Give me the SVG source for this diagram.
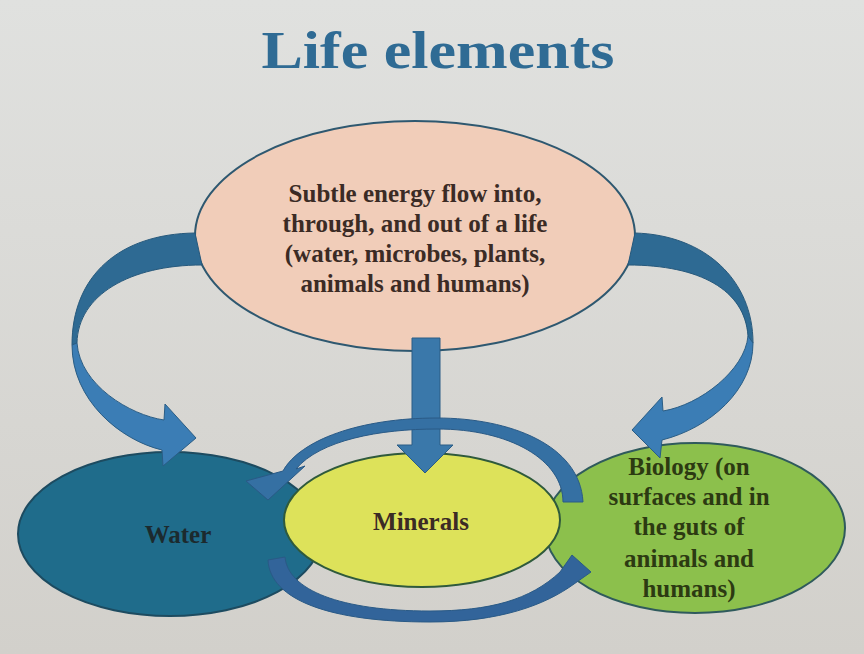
<svg xmlns="http://www.w3.org/2000/svg" width="864" height="654" viewBox="0 0 864 654">
<defs>
<linearGradient id="bg" x1="0" y1="0" x2="0" y2="1">
<stop offset="0" stop-color="#e0e1df"/>
<stop offset="1" stop-color="#d2d0cb"/>
</linearGradient>
</defs>
<style>
.lbl{font-family:"Liberation Serif","Times New Roman",serif;font-weight:bold;font-size:25px;fill:#3b2b25;text-anchor:middle}
.bio{fill:#2c3a12}
.node{stroke-width:2}
.arrD{fill:#2e6a93;stroke:#27597c;stroke-width:1}
.arrL{fill:#3b7db5;stroke:#2a5d85;stroke-width:1}
.ring{fill:#3570a3;stroke:#2a5a86;stroke-width:1}
</style>
<rect width="864" height="654" fill="url(#bg)"/>
<text x="438" y="68" font-family="Liberation Serif,'Times New Roman',serif" font-weight="bold" font-size="53" fill="#2f6b94" text-anchor="middle" textLength="353" lengthAdjust="spacingAndGlyphs">Life elements</text>

<g id="node-energy">
<ellipse class="node" cx="415" cy="236" rx="220" ry="115" fill="#f1cdb9" stroke="#2e5870"/>
<text class="lbl" x="415" y="202">Subtle energy flow into,</text>
<text class="lbl" x="415" y="232">through, and out of a life</text>
<text class="lbl" x="415" y="262">(water, microbes, plants,</text>
<text class="lbl" x="415" y="292">animals and humans)</text>
</g>
<g id="node-water">
<ellipse class="node" cx="170" cy="534" rx="152" ry="82" fill="#1f6c8b" stroke="#1d4b60"/>
<text class="lbl" x="178" y="543" style="fill:#1c2a2e">Water</text>
</g>
<g id="node-biology">
<ellipse class="node" cx="695" cy="528" rx="150" ry="85" fill="#8cc04c" stroke="#2f5a5c"/>
<text class="lbl bio" x="689" y="475">Biology (on</text>
<text class="lbl bio" x="689" y="505">surfaces and in</text>
<text class="lbl bio" x="689" y="535">the guts of</text>
<text class="lbl bio" x="689" y="567">animals and</text>
<text class="lbl bio" x="689" y="597">humans)</text>
</g>
<g id="node-minerals">
<ellipse class="node" cx="422" cy="520" rx="138" ry="67" fill="#dde25a" stroke="#2f5a3c"/>
<text class="lbl" x="421" y="530">Minerals</text>
</g>

<g id="connectors">
<!-- left curved arrow -->
<path class="arrD" d="M195,233 C120,234 72,275 72,345 L77,343 C78,295 130,265 202,265 Z"/>
<path class="arrL" d="M72,345 C72,400 120,440 162,450 L163,466 L196,438 L165,404 L164,420 C130,415 80,385 77,343 Z"/>
<!-- right curved arrow -->
<path class="arrD" d="M635,233 C705,235 753,280 753,343 L748,336 C745,290 700,265 628,265 Z"/>
<path class="arrL" d="M753,343 C753,390 710,428 662,440 L660,458 L632,430 L662,397 L663,411 C700,405 745,370 748,336 Z"/>
<!-- straight down arrow -->
<path fill="#3a78aa" stroke="#2a5d85" stroke-width="1" d="M412,338 L440,338 L440,445 L453,445 L425,473 L397,445 L412,445 Z"/>
<!-- top arc around minerals -->
<path class="ring" d="M583,502 C580,445 510,418 437,418 C360,418 300,440 283,471 L246,481 L268,500 L305,466 L296,469 C320,440 380,429 437,429 C510,429 563,460 563,502 Z"/>
<!-- bottom arc around minerals -->
<path class="ring" style="fill:#32649a" d="M268,560 C270,600 330,622 430,622 C500,622 545,605 574,584 L591,572 L572,555 L560,572 C530,600 490,611 430,611 C340,611 288,590 285,557 Z"/>
</g>
</svg>
